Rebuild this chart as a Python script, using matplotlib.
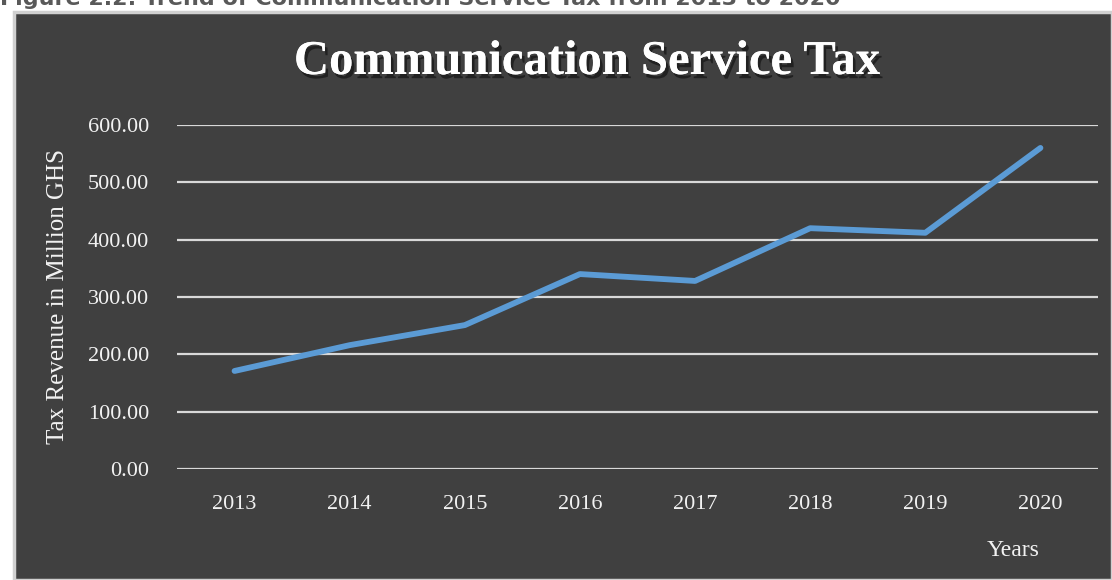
import matplotlib.pyplot as plt
import matplotlib.patheffects as pe
from matplotlib.patches import Rectangle

years = ['2013', '2014', '2015', '2016', '2017', '2018', '2019', '2020']
revenue = [171, 216, 251, 340, 328, 420, 412, 560]
yticks = [0, 100, 200, 300, 400, 500, 600]

bg = '#404040'
grid = '#d9d9d9'
txt = '#f2f2f2'
serif = ['Liberation Serif', 'DejaVu Serif']

fig = plt.figure(figsize=(11.12, 5.8), dpi=100, facecolor='white')

# dark chart panel with light border
fig.patches.append(Rectangle((14 / 1112, 0), 1 - 14 / 1112, 1 - 12 / 580,
                             transform=fig.transFigure, facecolor=bg,
                             edgecolor='#d0d0d0', linewidth=2.5, zorder=-10))

# caption of the document, cut off at the top as in the source
fig.text(0.0, 1 - 5 / 580, 'Figure 2.2: Trend of Communication Service Tax from 2013 to 2020',
         fontsize=16, fontweight='bold', color='#595959', va='baseline', ha='left')

ax = fig.add_axes([177 / 1112, 1 - 469 / 580, (1098 - 177) / 1112, (469 - 125) / 580])
ax.set_facecolor('none')
ax.plot(range(len(years)), revenue, color='#5b9bd5', linewidth=4.2,
        solid_capstyle='round', solid_joinstyle='round', zorder=3)

ax.set_xlim(-0.5, len(years) - 0.5)
ax.set_ylim(0, 600)
ax.set_yticks(yticks)
ax.set_yticklabels(['%.2f' % v for v in yticks])
ax.set_xticks(range(len(years)))
ax.set_xticklabels(years)
for lab in ax.get_xticklabels() + ax.get_yticklabels():
    lab.set_fontfamily(serif)
    lab.set_fontsize(16)
    lab.set_color(txt)
ax.tick_params(length=0)
ax.tick_params(axis='y', pad=20)
ax.tick_params(axis='x', pad=19)
ax.grid(axis='y', color=grid, linewidth=1.6)
ax.set_axisbelow(True)
for s in ax.spines.values():
    s.set_visible(False)

ax.set_ylabel('Tax Revenue in Million GHS', fontfamily=serif, fontsize=18,
              color=txt, labelpad=14)

fig.text(587 / 1112, 1 - 62 / 580, 'Communication Service Tax', fontfamily=serif,
         fontsize=35, fontweight='bold', color='white', ha='center', va='center',
         path_effects=[pe.withSimplePatchShadow(offset=(2, -3), shadow_rgbFace='#1a1a1a', alpha=0.8),
                       pe.Normal()])
fig.text(1013 / 1112, 1 - 551 / 580, 'Years', fontfamily=serif, fontsize=17,
         color=txt, ha='center', va='center')

fig.savefig('out.png', dpi=100, facecolor=fig.get_facecolor())
